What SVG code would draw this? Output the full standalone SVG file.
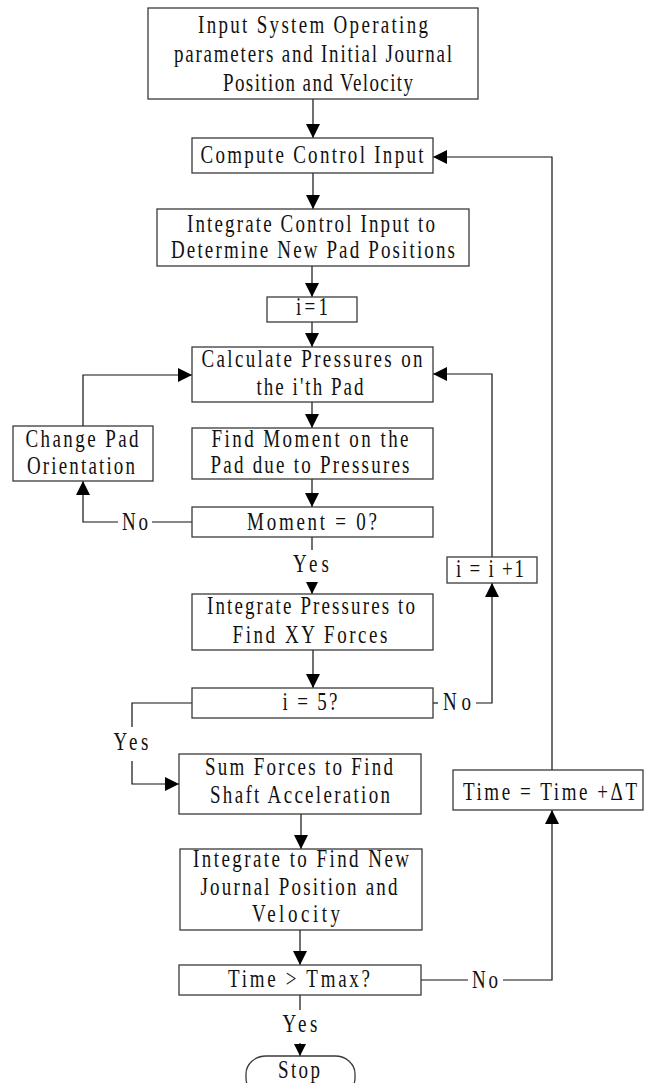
<svg xmlns="http://www.w3.org/2000/svg" width="645" height="1083" viewBox="0 0 645 1083">
<style>
.box{fill:#fff;stroke:#3a3a3a;stroke-width:1.3}
.ln{fill:none;stroke:#111;stroke-width:1.2}
.lnA{fill:none;stroke:#111;stroke-width:1.2;marker-end:url(#ah)}
.lnS{fill:none;stroke:#111;stroke-width:1.2;marker-end:url(#ahs)}
text{font-family:"Liberation Serif","Times New Roman",serif;font-size:19px;fill:#111;text-anchor:middle}
</style>
<defs>
<marker id="ah" viewBox="0 0 14 14" refX="14" refY="7" markerWidth="14" markerHeight="14" markerUnits="userSpaceOnUse" orient="auto"><path d="M0,0 L14,7 L0,14 z" fill="#000"/></marker>
<marker id="ahs" viewBox="0 0 12 12" refX="12" refY="6" markerWidth="12" markerHeight="12" markerUnits="userSpaceOnUse" orient="auto"><path d="M0,0 L12,6 L0,12 z" fill="#000"/></marker>
</defs>
<rect width="645" height="1083" fill="#fff"/>
<g id="connectors">
<path class="lnA" d="M313,99 V138"/>
<path class="lnA" d="M313,173 V209"/>
<path class="lnA" d="M312,266 V297"/>
<path class="lnA" d="M312,322 V347"/>
<path class="lnA" d="M312,402 V428"/>
<path class="lnA" d="M312,479 V507"/>
<path class="ln" d="M192,522 H152"/>
<path class="lnA" d="M118,522 H83 V481"/>
<text transform="translate(135,530) scale(1,1.3)" textLength="26">No</text>
<path class="lnA" d="M83,426 V375 H192"/>
<path class="ln" d="M312,537 V550"/>
<text transform="translate(311,572) scale(1,1.3)" textLength="36">Yes</text>
<path class="lnS" d="M312,582 V594"/>
<path class="lnA" d="M313,650 V688"/>
<path class="ln" d="M433,703 H438"/>
<text transform="translate(457,710) scale(1,1.3)" textLength="28">No</text>
<path class="lnA" d="M476,703 H492 V583"/>
<path class="lnA" d="M492,557 V374 H433"/>
<path class="ln" d="M192,703 H132 V727"/>
<text transform="translate(131,750) scale(1,1.3)" textLength="35">Yes</text>
<path class="lnA" d="M132,761 V784 H179"/>
<path class="lnA" d="M301,814 V849"/>
<path class="lnA" d="M300,930 V965"/>
<path class="ln" d="M421,980 H468"/>
<text transform="translate(485,988) scale(1,1.3)" textLength="26">No</text>
<path class="lnA" d="M503,980 H552 V810"/>
<path class="lnA" d="M552,770 V157 H433"/>
<path class="ln" d="M300,995 V1010"/>
<text transform="translate(300,1032) scale(1,1.3)" textLength="35">Yes</text>
<path class="lnS" d="M300,1043 V1056"/>
</g>
<g id="n1"><rect class="box" x="148" y="8" width="330" height="91"/>
<text transform="translate(313,33) scale(1,1.3)" textLength="230">Input System Operating</text>
<text transform="translate(313,62) scale(1,1.3)" textLength="278">parameters and Initial Journal</text>
<text transform="translate(318,91) scale(1,1.3)" textLength="190">Position and Velocity</text></g>
<g id="n2"><rect class="box" x="192" y="138" width="241" height="35"/>
<text transform="translate(312,163) scale(1,1.3)" textLength="223">Compute Control Input</text></g>
<g id="n3"><rect class="box" x="157" y="209" width="312" height="57"/>
<text transform="translate(311,232) scale(1,1.3)" textLength="248">Integrate Control Input to</text>
<text transform="translate(313,258) scale(1,1.3)" textLength="284">Determine New Pad Positions</text></g>
<g id="n4"><rect class="box" x="267" y="297" width="90" height="25"/>
<text transform="translate(312,315) scale(1,1.3)" textLength="32">i=1</text></g>
<g id="n5"><rect class="box" x="192" y="347" width="241" height="55"/>
<text transform="translate(312,367) scale(1,1.3)" textLength="221">Calculate Pressures on</text>
<text transform="translate(310,395) scale(1,1.3)" textLength="107">the i'th Pad</text></g>
<g id="n6"><rect class="box" x="13" y="426" width="140" height="55"/>
<text transform="translate(82,447) scale(1,1.3)" textLength="113">Change Pad</text>
<text transform="translate(81,474) scale(1,1.3)" textLength="108">Orientation</text></g>
<g id="n7"><rect class="box" x="192" y="428" width="241" height="51"/>
<text transform="translate(310,447) scale(1,1.3)" textLength="197">Find Moment on the</text>
<text transform="translate(310,473) scale(1,1.3)" textLength="199">Pad due to Pressures</text></g>
<g id="n8"><rect class="box" x="192" y="507" width="241" height="30"/>
<text transform="translate(312,530) scale(1,1.3)" textLength="130">Moment = 0?</text></g>
<g id="n9"><rect class="box" x="192" y="594" width="241" height="56"/>
<text transform="translate(311,614) scale(1,1.3)" textLength="208">Integrate Pressures to</text>
<text transform="translate(310,643) scale(1,1.3)" textLength="155">Find XY Forces</text></g>
<g id="n10"><rect class="box" x="192" y="688" width="241" height="30"/>
<text transform="translate(310,710) scale(1,1.3)" textLength="55">i = 5?</text></g>
<g id="n11"><rect class="box" x="447" y="557" width="90" height="26"/>
<text transform="translate(490,577) scale(1,1.3)" textLength="68">i = i +1</text></g>
<g id="n12"><rect class="box" x="179" y="754" width="242" height="60"/>
<text transform="translate(299,775) scale(1,1.3)" textLength="188">Sum Forces to Find</text>
<text transform="translate(300,803) scale(1,1.3)" textLength="180">Shaft Acceleration</text></g>
<g id="n13"><rect class="box" x="453" y="770" width="190" height="40"/>
<text transform="translate(550,800) scale(1,1.3)" textLength="174">Time = Time +ΔT</text></g>
<g id="n14"><rect class="box" x="180" y="849" width="242" height="81"/>
<text transform="translate(301,867) scale(1,1.3)" textLength="216">Integrate to Find New</text>
<text transform="translate(299,895) scale(1,1.3)" textLength="197">Journal Position and</text>
<text transform="translate(296,922) scale(1,1.3)" textLength="88">Velocity</text></g>
<g id="n15"><rect class="box" x="179" y="965" width="242" height="30"/>
<text transform="translate(299,987) scale(1,1.3)" textLength="142">Time &gt; Tmax?</text></g>
<g id="n16"><rect class="box" x="246" y="1056" width="109" height="40" rx="20" ry="18"/>
<text transform="translate(299,1078) scale(1,1.3)" textLength="42">Stop</text></g>
</svg>
